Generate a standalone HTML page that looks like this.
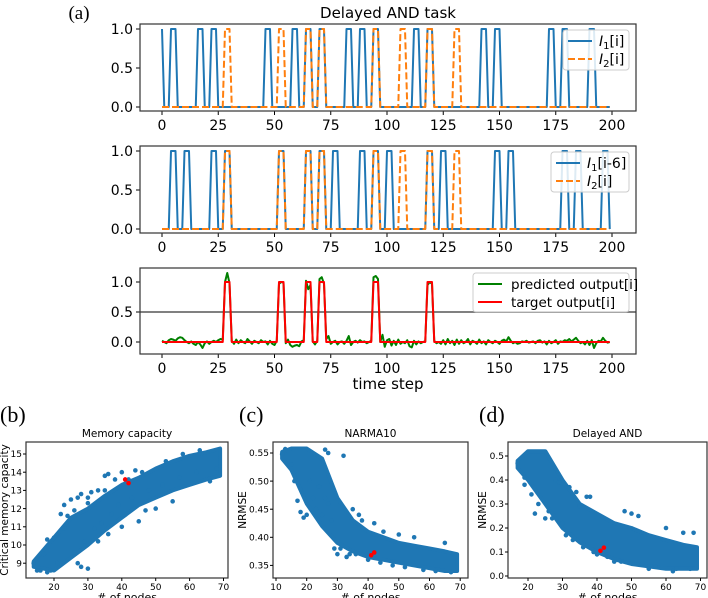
<!DOCTYPE html>
<html><head><meta charset="utf-8">
<style>
html,body{margin:0;padding:0;background:#fff;}
svg{display:block;font-family:"DejaVu Sans","Liberation Sans",sans-serif;}
</style></head>
<body>
<svg id="fig" width="708" height="598" viewBox="0 0 708 598" xmlns="http://www.w3.org/2000/svg"></svg>
<script>
// ---------- data ----------
const timeTicks = [0,25,50,75,100,125,150,175,200];
const i1Starts = [-2,4,16,22,46,58,64,70,82,88,94,112,118,142,148,172,178,190];
const i2Starts = [28,52,64,70,94,106,118,130];
const delay = 6;
const predicted = [0.02,0.0,-0.02,0.03,0.05,0.04,0.02,0.06,0.08,0.07,0.03,0.0,-0.02,0.01,-0.03,-0.05,0.0,-0.04,-0.1,-0.02,0.01,-0.03,0.0,0.02,0.0,0.03,0.05,0.04,
1.0,1.15,0.98,0.02,-0.03,0.04,-0.02,0.03,0.0,-0.02,0.05,0.01,-0.03,0.02,0.0,-0.02,0.03,0.0,0.01,-0.04,0.02,-0.03,-0.05,0.02,
0.97,1.0,0.99,-0.02,0.04,-0.05,-0.08,-0.06,-0.05,-0.07,0.01,0.03,
1.02,0.88,0.95,0.01,-0.04,0.02,
1.05,1.08,0.97,0.05,0.1,-0.03,0.0,0.02,-0.04,0.0,0.01,-0.03,0.02,0.1,-0.05,0.0,0.02,-0.01,0.03,0.0,0.01,-0.02,0.0,0.02,
1.08,1.1,1.05,0.0,0.12,-0.08,0.03,0.05,-0.06,0.02,-0.05,0.04,-0.03,0.0,-0.02,0.03,-0.07,-0.09,0.02,-0.04,0.01,-0.02,0.0,0.01,
0.95,1.0,0.97,0.02,-0.02,0.0,-0.03,0.03,-0.04,0.05,-0.02,0.02,-0.05,0.04,-0.03,0.03,-0.02,0.0,0.05,-0.04,0.02,0.0,-0.03,0.04,-0.02,0.01,-0.04,0.03,0.0,-0.02,0.02,0.0,-0.03,0.02,0.04,0.01,0.08,0.02,-0.02,0.0,-0.03,-0.02,0.01,0.0,0.02,-0.01,0.0,0.01,-0.02,0.02,0.03,-0.01,0.01,-0.04,0.02,-0.02,0.0,0.03,-0.03,0.01,0.0,0.03,0.02,0.05,0.01,0.04,0.07,0.02,-0.02,0.0,-0.04,0.02,-0.05,0.03,-0.1,-0.02,0.02,0.01,0.07,0.02,-0.01,0.0];

// scatter (b)
const mcNodes = [14,20,25,30,35,40,45,50,55,60,65,69];
const mcLower = [8.8,8.6,9.3,10.0,10.8,11.5,12.2,12.6,13.0,13.3,13.6,13.8];
const mcUpper = [9.1,10.4,11.5,12.0,12.7,13.3,13.7,14.2,14.6,14.9,15.1,15.3];
const mcOutX = [14,16,17,18,20,22,23,24,25,27,28,30,33,35,36,38,40,28,30,27,33,36,40,45,47,50,55,66,31,44,15,18,21,19,26,29,32,34,37,39,43,48,52,57,62,68,23,26,30,35,42,46,53,58,63];
const mcOutY = [9.0,8.6,9.5,10.3,10.4,11.7,12.2,11.6,12.5,12.6,12.8,12.6,13.0,13.8,13.9,13.6,14.0,8.8,8.7,9.0,10.2,10.6,11.0,11.3,11.9,12.0,12.4,13.5,12.9,14.1,8.6,8.5,9.0,8.6,9.6,10.2,10.9,11.2,11.7,12.2,12.6,13.0,13.3,13.7,14.0,14.2,10.9,11.9,12.3,13.0,13.6,14.0,14.6,15.0,15.2];
const mcRedX = [41,42];
const mcRedY = [13.6,13.4];
const mcXTicks = [20,30,40,50,60,70];
const mcYTicks = [9,10,11,12,13,14,15];
// scatter (c)
const naNodes = [12,15,20,25,30,35,40,45,50,55,60,65,69];
const naUpper = [0.552,0.558,0.558,0.54,0.47,0.43,0.41,0.40,0.39,0.385,0.38,0.375,0.37];
const naLower = [0.54,0.52,0.46,0.42,0.39,0.375,0.365,0.36,0.355,0.35,0.345,0.34,0.34];
const naOutX = [12,13,15,17,18,19,22,26,27,32,35,37,38,42,45,50,55,65,30,33,21,24,16,20,23,25,28,29,31,34,36,40,44,48,52,58,62,67,27,26];
const naOutY = [0.548,0.557,0.53,0.465,0.445,0.435,0.47,0.556,0.55,0.545,0.45,0.44,0.43,0.425,0.41,0.405,0.40,0.39,0.37,0.365,0.5,0.49,0.5,0.44,0.45,0.44,0.43,0.38,0.38,0.37,0.37,0.36,0.355,0.35,0.347,0.342,0.34,0.338,0.46,0.47];
const naRedX = [41,42];
const naRedY = [0.368,0.373];
const naXTicks = [10,20,30,40,50,60,70];
const naYTicks = [0.35,0.40,0.45,0.50,0.55];
// scatter (d)
const daNodes = [17,20,25,30,35,40,45,50,55,60,65,69];
const daUpper = [0.48,0.52,0.52,0.40,0.30,0.26,0.22,0.20,0.17,0.15,0.13,0.12];
const daLower = [0.45,0.40,0.30,0.20,0.14,0.10,0.07,0.05,0.04,0.03,0.03,0.03];
const daOutX = [17,19,19,22,25,28,29,34,38,40,45,50,48,52,60,65,68,62,55,37,21,23,26,27,31,33,36,39,43,47,53,57,63,67,32,30,35];
const daOutY = [0.47,0.41,0.38,0.26,0.24,0.40,0.39,0.35,0.33,0.09,0.06,0.26,0.27,0.25,0.20,0.18,0.18,0.02,0.03,0.33,0.34,0.30,0.27,0.24,0.17,0.15,0.12,0.10,0.08,0.06,0.05,0.04,0.03,0.03,0.37,0.22,0.29];
const daRedX = [41,42];
const daRedY = [0.105,0.118];
const daXTicks = [20,30,40,50,60,70];
const daYTicks = [0.0,0.1,0.2,0.3,0.4,0.5];

// ---------- helpers ----------
const NS='http://www.w3.org/2000/svg';
const svg=document.getElementById('fig');
function mk(tag,attrs,parent){const e=document.createElementNS(NS,tag);for(const k in attrs)e.setAttribute(k,attrs[k]);(parent||svg).appendChild(e);return e;}
function txt(s,x,y,size,anchor,parent,extra){const e=mk('text',Object.assign({x:x,y:y,'font-size':size,'text-anchor':anchor||'middle',fill:'#000'},extra||{}),parent);e.textContent=s;return e;}
function pulses(starts,shift){const a=[];for(let i=0;i<200;i++){let v=0;for(const s of starts){const p=s+shift;if(i>=p&&i<=p+2)v=1;}a.push(v);}return a;}

const I1=pulses(i1Starts,0), I1d=pulses(i1Starts,delay), I2=pulses(i2Starts,0);
const target=I1d.map((v,i)=>v&&I2[i]?1:0);

const tx=t=>162+2.25*t;

function timePanel(name,top,bot,y0,yScale,yTicks,yLabels){
  const g=mk('g',{});
  
  
  const yv=v=>y0-v*yScale;
  timeTicks.forEach(t=>{
    mk('line',{x1:tx(t),x2:tx(t),y1:bot,y2:bot+4,stroke:'#000','stroke-width':1},g);
    const l=txt(String(t),tx(t),bot+19,14,'middle',g);
    
    
  });
  yTicks.forEach((v,k)=>{
    mk('line',{x1:136,x2:140,y1:yv(v),y2:yv(v),stroke:'#000','stroke-width':1},g);
    const l=txt(yLabels[k],133,yv(v)+5,14,'end',g);
    
    
  });
  return {g,yv};
}
function series(arr,yv,color,dash,g,name){
  let d='';arr.forEach((v,i)=>{d+=(i?'L':'M')+tx(i).toFixed(2)+','+yv(v).toFixed(2);});
  const p=mk('path',{d:d,fill:'none',stroke:color,'stroke-width':2,'stroke-linejoin':'round'},g);
  if(dash)p.setAttribute('stroke-dasharray',dash);
  
  
  return p;
}
function frame(x1,y1,x2,y2,g){const r=mk('rect',{x:x1,y:y1,width:x2-x1,height:y2-y1,fill:'none',stroke:'#333','stroke-width':1.2},g);}
function legend(x1,y1,x2,y2,entries,g,textX,fs){
  const lg=mk('g',{},g);
  
  
  mk('rect',{x:x1,y:y1,width:x2-x1,height:y2-y1,rx:3,fill:'#fff','fill-opacity':0.85,stroke:'#ccc','stroke-width':1},lg);
  entries.forEach(e=>{
    const ln=mk('line',{x1:x1+5,x2:x1+29,y1:e.y,y2:e.y,stroke:e.color,'stroke-width':2},lg);
    if(e.dash)ln.setAttribute('stroke-dasharray',e.dash);
    const t=mk('text',{x:textX,y:e.y+5,'font-size':fs,fill:'#000'},lg);
    t.innerHTML=e.label;
    
    
  });
}

// ---------- labels ----------
const la=txt('(a)',79,19,19,'middle',svg,{'font-family':'"Liberation Serif",serif'});

const ti=txt('Delayed AND task',388,18,15,'middle');


let P=timePanel('input-panel',24,111,107,78,[0,0.5,1],['0.0','0.5','1.0']);
series(I1,P.yv,'#1f77b4',null,P.g,'series-i1');
series(I2,P.yv,'#ff7f0e','7,3',P.g,'series-i2');
frame(140,24,636,111,P.g);
legend(563,30,629,70,[{y:41,color:'#1f77b4',label:'<tspan font-style="italic">I</tspan><tspan font-size="10" dy="3">1</tspan><tspan dy="-3">[i]</tspan>'},{y:59,color:'#ff7f0e',dash:'7,3',label:'<tspan font-style="italic">I</tspan><tspan font-size="10" dy="3">2</tspan><tspan dy="-3">[i]</tspan>'}],P.g,599,14);

P=timePanel('delayed-input-panel',146,233,229,78,[0,0.5,1],['0.0','0.5','1.0']);
series(I1d,P.yv,'#1f77b4',null,P.g,'series-i1-delayed');
series(I2,P.yv,'#ff7f0e','7,3',P.g,'series-i2');
frame(140,146,636,233,P.g);
legend(551,152,629,192,[{y:163,color:'#1f77b4',label:'<tspan font-style="italic">I</tspan><tspan font-size="10" dy="3">1</tspan><tspan dy="-3">[i-6]</tspan>'},{y:181,color:'#ff7f0e',dash:'7,3',label:'<tspan font-style="italic">I</tspan><tspan font-size="10" dy="3">2</tspan><tspan dy="-3">[i]</tspan>'}],P.g,587,14);

P=timePanel('output-panel',268,354,342,60,[0,0.5,1],['0.0','0.5','1.0']);
const hl=mk('line',{x1:140,x2:636,y1:P.yv(0.5),y2:P.yv(0.5),stroke:'#808080','stroke-width':2},P.g);

series(predicted,P.yv,'#008000',null,P.g,'series-predicted');
series(target,P.yv,'#ff0000',null,P.g,'series-target');
frame(140,268,636,354,P.g);
legend(473,273,629,312,[{y:284,color:'#008000',label:'predicted output[i]'},{y:302,color:'#ff0000',label:'target output[i]'}],P.g,511,13.5);
const xl=txt('time step',388,389,15,'middle');


// ---------- scatter panels ----------
function scatter(cfg){
  const g=mk('g',{});
  
  
  const {sx,sy}=cfg;
  const cp=mk('clipPath',{id:cfg.name+'-clip'},g);
  mk('rect',{x:cfg.x1,y:cfg.y1,width:cfg.x2-cfg.x1,height:cfg.y2-cfg.y1},cp);
  const dg=mk('g',{'clip-path':'url(#'+cfg.name+'-clip)'},g);
  let d='';
  cfg.nodes.forEach((n,i)=>{d+=(i?'L':'M')+sx(n).toFixed(1)+','+sy(cfg.upper[i]).toFixed(1);});
  for(let i=cfg.nodes.length-1;i>=0;i--)d+='L'+sx(cfg.nodes[i]).toFixed(1)+','+sy(cfg.lower[i]).toFixed(1);
  d+='Z';
  const band=mk('path',{d:d,fill:'#1f77b4',stroke:'#1f77b4','stroke-width':4,'stroke-linejoin':'round'},dg);
  
  
  cfg.outX.forEach((n,i)=>{
    const c=mk('circle',{cx:sx(n),cy:sy(cfg.outY[i]),r:2.3,fill:'#1f77b4'},dg);
    
    
  });
  cfg.redX.forEach((n,i)=>{
    const c=mk('circle',{cx:sx(n),cy:sy(cfg.redY[i]),r:2.3,fill:'#ff0000'},dg);
    
    
  });
  frame(cfg.x1,cfg.y1,cfg.x2,cfg.y2,g);
  cfg.xTicks.forEach(t=>{
    mk('line',{x1:sx(t),x2:sx(t),y1:cfg.y2,y2:cfg.y2+3,stroke:'#000'},g);
    const l=txt(String(t),sx(t),cfg.y2+12,9,'middle',g);
    
  });
  cfg.yTicks.forEach((v,k)=>{
    mk('line',{x1:cfg.x1-3,x2:cfg.x1,y1:sy(v),y2:sy(v),stroke:'#000'},g);
    const l=txt(cfg.yFmt(v),cfg.x1-4,sy(v)+3.2,9,'end',g);
    
  });
  const t=txt(cfg.title,(cfg.x1+cfg.x2)/2,cfg.y1-5,10.5,'middle',g);
  
  const xa=txt('# of nodes',(cfg.x1+cfg.x2)/2,cfg.y2+23,11,'middle',g);
  
  const ya=txt(cfg.yTitle,0,0,cfg.yTitleSize,'middle',g,{transform:'translate('+cfg.yTitleX+','+((cfg.y1+cfg.y2)/2)+') rotate(-90)'});
  
  const pl=txt(cfg.label,cfg.labelX,422,22,'start',g,{'font-family':'"Liberation Serif",serif'});
  
}
scatter({name:'memory-capacity-plot',x1:26,y1:442,x2:228,y2:578,
  sx:n=>54+(n-20)*3.39, sy:v=>454-(v-15)*18.2,
  nodes:mcNodes,upper:mcUpper,lower:mcLower,outX:mcOutX,outY:mcOutY,redX:mcRedX,redY:mcRedY,
  xTicks:mcXTicks,yTicks:mcYTicks,yFmt:v=>String(v),title:'Memory capacity',yTitle:'Critical memory capacity',yTitleX:8,yTitleSize:10.5,label:'(b)',labelX:0});
scatter({name:'narma10-plot',x1:273,y1:442,x2:468,y2:578,
  sx:n=>276+(n-10)*3.07, sy:v=>453-(v-0.55)/0.05*28.1,
  nodes:naNodes,upper:naUpper,lower:naLower,outX:naOutX,outY:naOutY,redX:naRedX,redY:naRedY,
  xTicks:naXTicks,yTicks:naYTicks,yFmt:v=>v.toFixed(2),title:'NARMA10',yTitle:'NRMSE',yTitleX:246,yTitleSize:10.5,label:'(c)',labelX:239});
scatter({name:'delayed-and-plot',x1:508,y1:442,x2:707,y2:578,
  sx:n=>528+(n-20)*3.45, sy:v=>576-v*240,
  nodes:daNodes,upper:daUpper,lower:daLower,outX:daOutX,outY:daOutY,redX:daRedX,redY:daRedY,
  xTicks:daXTicks,yTicks:daYTicks,yFmt:v=>v.toFixed(1),title:'Delayed AND',yTitle:'NRMSE',yTitleX:486,yTitleSize:10.5,label:'(d)',labelX:479});
</script>
</body></html>
